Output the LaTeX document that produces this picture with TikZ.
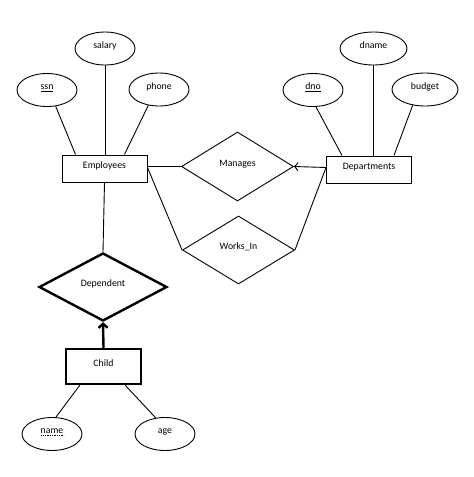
\documentclass[tikz,border=0pt]{standalone}
\usepackage{fontspec}
\setmainfont{Carlito}
\usetikzlibrary{shapes.geometric,arrows.meta}
\tikzset{
  base/.style={draw, line width=0.9pt, inner sep=0pt, text height=7pt, text depth=8pt, font=\fontsize{9.8}{12}\selectfont},
  attr/.style={base, ellipse, minimum width=60pt, minimum height=33pt},
  ent/.style={base, rectangle, minimum width=85pt, minimum height=27pt},
  rel/.style={base, diamond, minimum width=112pt, minimum height=69pt, aspect=1.62},
  conn/.style={line width=0.9pt},
  thickline/.style={line width=2.4pt}
}
\begin{document}
\begin{tikzpicture}[x=1pt,y=-1pt]
\useasboundingbox[fill=white] (0,0) rectangle (474,477);
% entities
\node[ent] (emp) at (104.5,168.5) {Employees};
\node[ent] (dept) at (369,169.5) {Departments};
\node[ent, thickline, minimum width=75pt, minimum height=35pt] (child) at (103.5,366.5) {Child};
% attributes
\node[attr] (salary) at (105,48.5) {salary};
\node[attr] (ssn) at (47,90) {\underline{ssn}};
\node[attr] (phone) at (159,89.5) {phone};
\node[attr, minimum width=67pt] (dname) at (373.5,48.5) {dname};
\node[attr] (dno) at (313,90) {\underline{dno}};
\node[attr, minimum width=66pt] (budget) at (425,89.5) {budget};
\node[attr] (name) at (52,434) {name};
\node[attr] (age) at (165,434) {age};
\draw[line width=0.7pt, dash pattern=on 1.3pt off 1pt] ([xshift=-11.5pt,yshift=-1.3pt]name.center) -- ([xshift=11.5pt,yshift=-1.3pt]name.center);
% relationships
\node[rel] (man) at (237.5,166.5) {Manages};
\node[rel, minimum height=68pt] (works) at (238.5,250) {Works\_In};
\node[rel, thickline, minimum width=128pt, minimum height=68pt, aspect=1.88] (dep) at (103,287) {Dependent};
% connectors
\draw[conn] (salary.south) -- (salary.south |- emp.north);
\draw[conn] (ssn.-62) -- ([xshift=14pt]emp.north west);
\draw[conn] (phone.-124) -- ([xshift=-23pt]emp.north east);
\draw[conn] (dname.south) -- (dname.south |- dept.north);
\draw[conn] (dno.-80) -- ([xshift=16pt]dept.north west);
\draw[conn] (budget.-128) -- ([xshift=-18pt]dept.north east);
\draw[conn] ([yshift=2pt]emp.east) -- (man.west);
\draw[conn] ([yshift=1pt]emp.east) -- (works.west);
\draw[conn] ([yshift=2pt]dept.west) -- (works.east);
\draw[conn, -{Straight Barb[length=3.5pt,width=8pt]}] ([yshift=2pt]dept.west) -- (man.east);
\draw[conn] (emp.south) -- (dep.north);
\draw[thickline, -{Straight Barb[length=4pt,width=9pt]}] (child.north) -- (dep.south);
\draw[conn] ([xshift=15pt]child.south west) -- (name.77);
\draw[conn] ([xshift=-17pt]child.south east) -- (age.120);
\end{tikzpicture}
\end{document}
